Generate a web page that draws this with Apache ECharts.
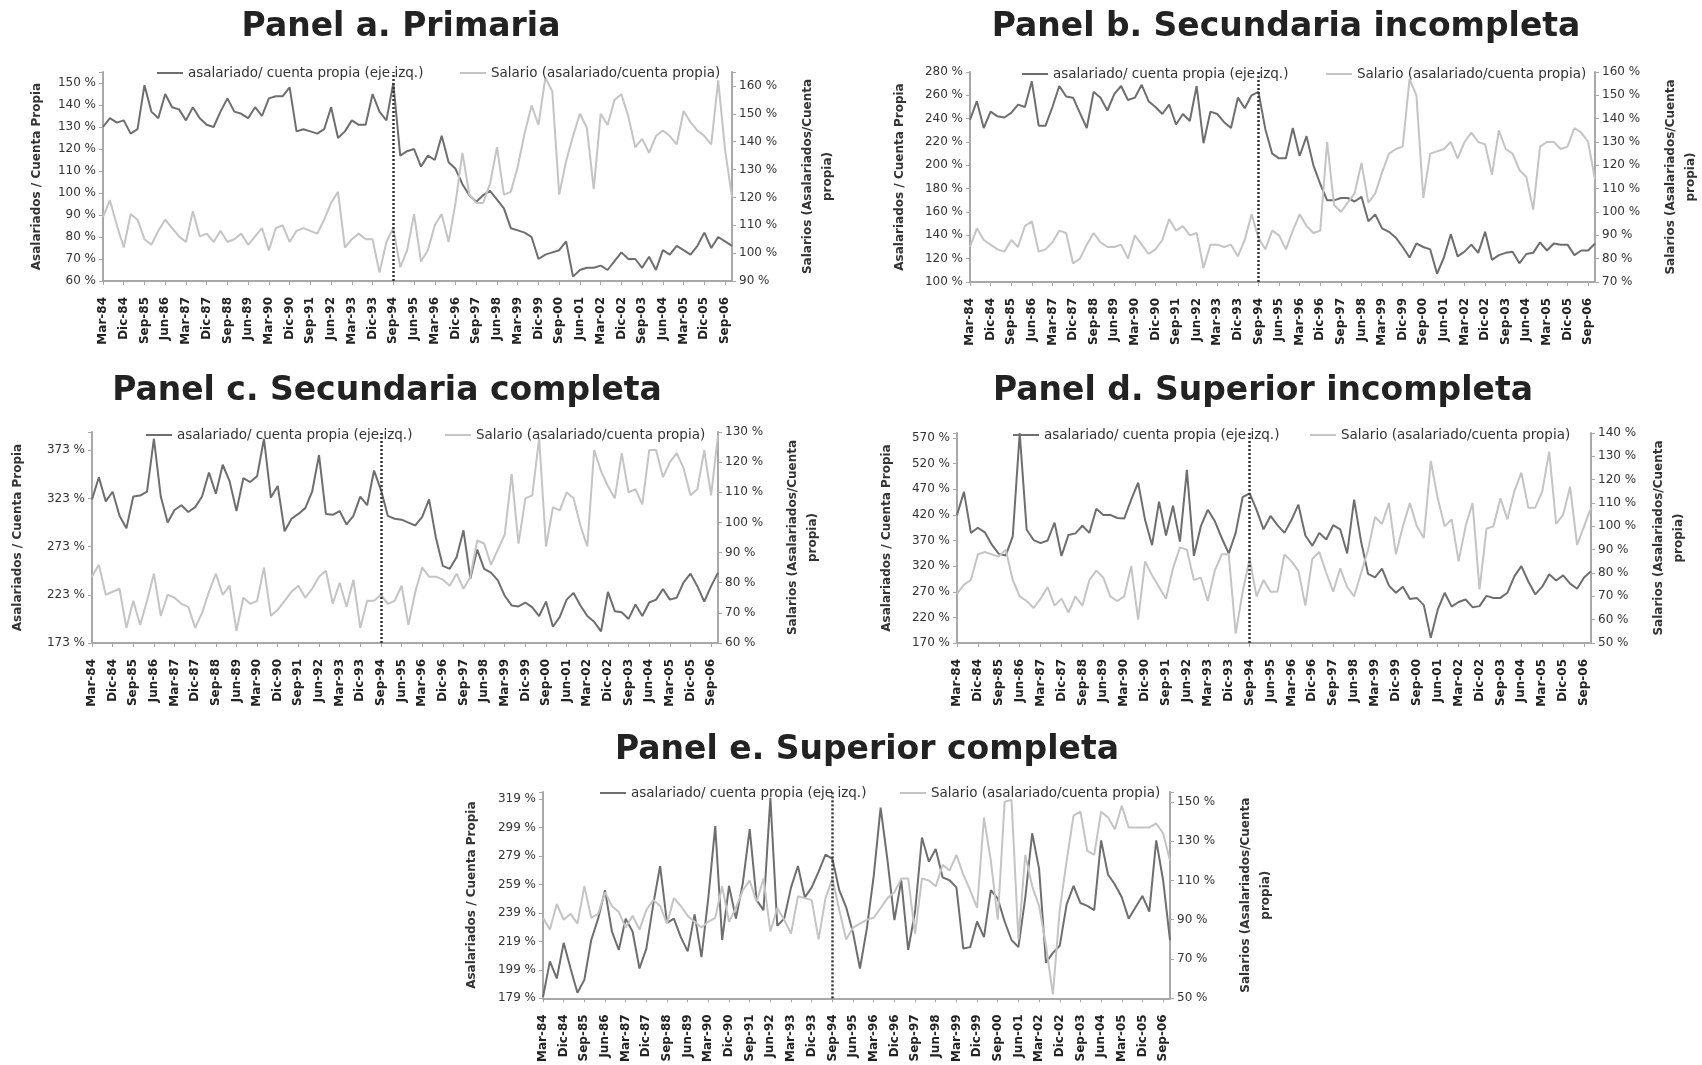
<!DOCTYPE html>
<html>
<head>
<meta charset="utf-8">
<script src="https://cdn.jsdelivr.net/npm/echarts@6/dist/echarts.min.js"></script>
<style>
  html, body { margin: 0; padding: 0; background: #fff; }
  #chart { width: 1702px; height: 1065px; }
</style>
</head>
<body>
<div id="chart"></div>
<script>
// quarterly labels Mar-84 .. Dic-06
const quarters = ['Mar', 'Jun', 'Sep', 'Dic']
const years = ['84','85','86','87','88','89','90','91','92','93','94','95','96','97','98','99','00','01','02','03','04','05','06']
const categories = []
years.forEach(y => quarters.forEach(q => categories.push(q + '-' + y)))

const breakLabel = 'Sep-94'
const darkName = 'asalariado/ cuenta propia (eje izq.)'
const lightName = 'Salario (asalariado/cuenta propia)'

// values in %
const aDark = [130,134,132,133,127,129,149,137,134,145,139,138,133,139,134,131,130,137,143,137,136,134,139,135,143,144,144,148,128,129,128,127,129,139,125,128,133,131,131,145,137,133,150,
  117,119,120,112,117,115,126,114,111,104,99,96,99,101,97,93,84,83,82,80,70,72,73,74,78,62,65,66,66,67,65,69,73,70,70,66,71,65,74,72,76,74,72,76,82,75,80,78,76]
const aLight = [113,119,110,102,114,112,105,103,108,112,109,106,104,115,106,107,104,108,104,105,107,103,106,109,101,109,110,104,108,109,108,107,112,118,122,102,105,107,105,105,93,104,109,
  95,101,114,97,101,110,114,104,118,136,121,118,118,125,138,121,122,131,143,153,146,163,158,121,133,142,150,145,123,150,146,155,157,149,138,141,136,142,144,142,139,151,147,144,142,139,162,137,120]

const bDark = [239,255,232,246,242,241,245,252,250,272,234,234,250,268,259,258,245,232,263,258,247,261,268,256,258,269,255,250,244,252,235,244,238,268,219,246,244,237,232,258,249,260,263,
  231,210,206,206,232,208,225,200,184,170,170,172,172,169,173,152,158,146,143,138,130,121,133,130,128,107,121,141,122,126,132,125,143,119,123,125,126,116,124,125,134,127,133,132,132,123,127,127,133]
const bLight = [85,93,88,86,84,83,88,85,94,96,83,84,87,92,91,78,80,86,91,87,85,85,86,80,90,86,82,84,88,97,92,94,90,91,76,86,86,85,86,81,88,99,89,
  84,92,90,84,92,99,94,91,92,130,103,100,104,108,121,104,108,117,125,127,128,157,150,106,125,126,127,130,123,130,134,130,129,116,135,127,125,118,115,101,128,130,130,127,128,136,134,130,114]

const cDark = [322,345,320,330,305,292,325,326,330,385,325,298,311,316,309,314,325,350,328,358,341,310,344,340,346,385,324,336,289,302,307,313,330,368,307,306,310,296,305,325,316,352,332,
  305,302,301,298,295,304,322,282,253,250,262,290,240,270,250,246,238,222,212,211,215,210,201,216,190,200,218,225,212,201,195,185,226,206,205,198,213,201,215,218,229,218,220,236,245,232,216,232,246]
const cLight = [82,86,76,77,78,65,74,66,74,83,69,76,75,73,72,65,70,77,83,76,79,64,75,73,74,85,69,71,74,77,79,75,78,82,84,73,80,72,81,65,74,74,76,
  73,74,79,66,77,85,82,82,81,79,83,78,82,94,93,86,91,96,116,93,108,109,128,92,105,104,110,108,99,92,124,117,112,108,123,110,111,106,124,124,115,120,123,118,109,111,124,109,129]

const dDark = [420,465,385,395,386,362,344,341,378,580,391,371,365,370,405,340,381,384,399,385,432,420,420,414,413,450,483,410,361,446,380,438,368,508,340,398,430,408,375,345,385,455,462,
  430,392,418,400,385,410,440,380,360,385,372,400,392,345,450,368,305,298,315,282,268,280,256,258,244,180,235,268,241,250,255,240,242,262,258,258,268,300,320,290,265,280,304,292,302,286,276,298,310]
const dLight = [71,75,77,88,89,88,87,90,77,70,68,65,69,74,66,69,63,70,66,77,81,78,70,68,70,83,60,85,79,74,69,82,91,90,77,78,68,81,88,88,54,72,86,
  70,77,72,72,88,85,81,66,86,89,80,72,82,74,70,80,90,104,101,110,88,100,110,100,95,128,112,100,103,85,100,110,73,99,100,112,103,115,123,108,108,115,132,101,105,117,92,100,108]

const eDark = [180,205,193,218,200,183,192,220,235,255,226,213,235,226,200,214,245,272,232,235,222,212,238,208,250,300,220,258,235,260,298,248,241,320,230,235,257,272,250,257,268,280,277,
  255,243,225,200,228,265,313,276,234,262,213,240,292,275,284,264,262,257,214,215,233,222,255,249,233,220,215,250,295,270,204,211,216,245,258,246,244,241,290,266,259,250,235,243,251,240,290,262,220]
const eLight = [91,85,98,90,93,88,107,91,93,104,97,94,86,92,85,95,100,97,88,101,97,92,89,86,89,91,107,89,96,105,110,99,111,84,96,90,83,102,101,100,80,101,111,
  95,80,86,88,90,91,96,101,104,111,111,83,111,110,107,118,115,123,113,105,96,142,120,90,150,151,80,123,107,97,77,52,95,120,143,145,125,123,145,142,136,148,137,137,137,137,139,134,120]

// axis ranges [min, max, interval]
const panels = [
  { title: 'Panel a. Primaria', tx: 396, ty: 6, box: [103, 72, 629, 209], l1: 152, l2: 455, ly: 61,
    left: [60, 155, 10], right: [90, 165, 10], lGap: 56, rGap: 66, dark: aDark, light: aLight },
  { title: 'Panel b. Secundaria incompleta', tx: 1281, ty: 6, box: [970, 72, 628, 210], l1: 1017, l2: 1321, ly: 62,
    left: [100, 280, 20], right: [70, 160, 10], lGap: 60, rGap: 66, dark: bDark, light: bLight },
  { title: 'Panel c. Secundaria completa', tx: 382, ty: 370, box: [92, 432, 626, 211], l1: 141, l2: 440, ly: 423,
    left: [173, 392, 50], right: [60, 130, 10], lGap: 64, rGap: 65, dark: cDark, light: cLight },
  { title: 'Panel d. Superior incompleta', tx: 1258, ty: 370, box: [957, 433, 634, 210], l1: 1008, l2: 1305, ly: 423,
    left: [170, 580, 50], right: [50, 140, 10], lGap: 60, rGap: 58, dark: dDark, light: dLight },
  { title: 'Panel e. Superior completa', tx: 862, ty: 729, box: [543, 792, 627, 211], l1: 595, l2: 895, ly: 781,
    left: [179, 324, 20], right: [50, 155, 20], lGap: 61, rGap: 66, dark: eDark, light: eLight }
]

const axisGray = '#a8a8a8'

function valueAxis(range, gridIndex, position, name, gap) {
  const [min, max, interval] = range
  return {
    type: 'value', gridIndex, position, min, max, interval,
    name, nameLocation: 'middle', nameGap: gap, nameRotate: 90,
    nameTextStyle: { fontSize: 12, color: '#333', fontWeight: 'bold', lineHeight: 20 },
    splitLine: { show: false },
    axisLine: { show: true, lineStyle: { color: axisGray, width: 2 } },
    axisTick: { show: true, length: 4, lineStyle: { color: axisGray } },
    axisLabel: {
      fontSize: 12, color: '#333', margin: 7,
      formatter: v => ((v - min) % interval === 0 ? v + ' %' : '')
    }
  }
}

const option = {
  animation: false,
  backgroundColor: '#fff',
  textStyle: { fontFamily: 'DejaVu Sans' },
  title: panels.map(p => ({
    text: p.title, left: p.tx, top: p.ty, textAlign: 'center',
    textStyle: { fontSize: 33, fontWeight: 'bold', color: '#222', fontFamily: 'DejaVu Sans' }
  })),
  legend: [],
  grid: panels.map(p => ({ left: p.box[0], top: p.box[1], width: p.box[2], height: p.box[3] })),
  xAxis: panels.map((p, i) => ({
    type: 'category', gridIndex: i, data: categories, boundaryGap: false,
    axisLine: { lineStyle: { color: axisGray, width: 2 } },
    axisTick: { interval: 2, length: 4, lineStyle: { color: axisGray } },
    axisLabel: { interval: 2, rotate: 90, fontSize: 12, fontWeight: 'bold', color: '#222', margin: 16 }
  })),
  yAxis: [],
  series: []
}

panels.forEach((p, i) => {
  option.yAxis.push(valueAxis(p.left, i, 'left', 'Asalariados / Cuenta Propia', p.lGap))
  option.yAxis.push(valueAxis(p.right, i, 'right', 'Salarios (Asalariados/Cuenta\npropia)', p.rGap))
  const legendBase = { top: p.ly, icon: 'rect', itemWidth: 26, itemHeight: 2, itemGap: 0,
    textStyle: { fontSize: 13.5, color: '#333' } }
  option.legend.push(Object.assign({ data: [darkName], left: p.l1 }, legendBase))
  option.legend.push(Object.assign({ data: [lightName], left: p.l2 }, legendBase))
  option.series.push({
    name: darkName, type: 'line', xAxisIndex: i, yAxisIndex: 2 * i, data: p.dark,
    symbol: 'none', lineStyle: { color: '#6e6e6e', width: 2 }, itemStyle: { color: '#6e6e6e' },
    markLine: {
      silent: true, symbol: 'none', label: { show: false },
      lineStyle: { type: [2, 2], color: '#333', width: 2.5 },
      data: [{ xAxis: breakLabel }]
    }
  })
  option.series.push({
    name: lightName, type: 'line', xAxisIndex: i, yAxisIndex: 2 * i + 1, data: p.light,
    symbol: 'none', lineStyle: { color: '#c4c4c4', width: 2 }, itemStyle: { color: '#c4c4c4' }
  })
})

const chart = echarts.init(document.getElementById('chart'))
chart.setOption(option)
</script>
</body>
</html>
